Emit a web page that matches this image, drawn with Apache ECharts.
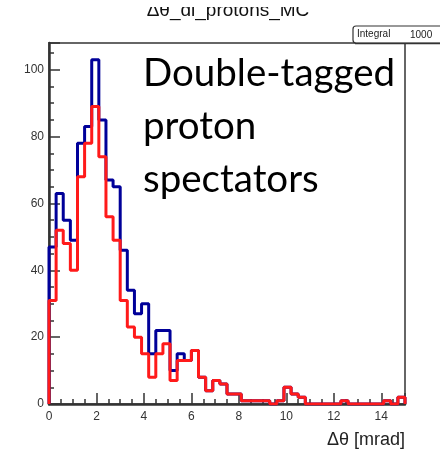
<!DOCTYPE html>
<html><head><meta charset="utf-8">
<script src="https://cdn.jsdelivr.net/npm/echarts@6/dist/echarts.min.js"></script>
<style>html,body{margin:0;padding:0;background:#fff}#c{width:440px;height:450px}</style>
</head><body><div id="c"></div>
<script>
// ---- data ----
const binStart = 0;
const binWidth = 0.3;
const blueCounts = [47,63,55,49,78,83,103,85,67,65, 46,34,27,30,15,22,22,10,15,13,
                    16,8,4,7,6,3,3,1,1,1, 1,0,1,5,3,2,0,0,0,0, 0,1,0,0,0,0,0,1,0,2];
const redCounts  = [31,52,48,40,68,78,89,74,56,49, 31,23,20,15,8,15,18,7,13,13,
                    16,8,4,7,6,3,3,1,1,1, 1,0,1,5,3,2,0,0,0,0, 0,1,0,0,0,0,0,1,0,2];
const xTickLabels = ['0','2','4','6','8','10','12','14'];
const yTickLabels = ['0','20','40','60','80','100'];
const titleText = 'Δθ_dl_protons_MC';
const xAxisTitle = 'Δθ [mrad]';
const statLabel = 'Integral';
const statValue = '1000';
const annotationLines = ['Double-tagged','proton','spectators'];

function stepData(counts){
  const pts = [[binStart, 0]];
  counts.forEach((v,i)=>pts.push([binStart + i*binWidth, v]));
  const end = binStart + counts.length*binWidth;
  pts.push([end, counts[counts.length-1]]);
  pts.push([end, 0]);
  return pts;
}
const chart = echarts.init(document.getElementById('c'), null, {renderer:'canvas'});
const axisCol = '#333';
const lab = {fontFamily:'"Liberation Sans", Arial, sans-serif', fontSize:12, color:'#333'};
chart.setOption({
  animation:false,
  backgroundColor:'#fff',
  grid:{left:49, right:35, top:43, bottom:46, show:true, borderColor:'#666', borderWidth:2},
  xAxis:[
    {type:'value', min:0, max:15, interval:2, position:'bottom',
     axisLine:{show:true, lineStyle:{color:axisCol, width:2.5}},
     axisTick:{show:true, inside:true, length:11, lineStyle:{color:axisCol, width:1.5}},
     axisLabel:Object.assign({margin:7, formatter:v=>xTickLabels.includes(String(v))?String(v):''}, lab),
     splitLine:{show:false}},
    {type:'value', min:0, max:15, interval:0.5, position:'bottom',
     axisLine:{show:false},
     axisTick:{show:true, inside:true, length:5, lineStyle:{color:axisCol, width:1.5}},
     axisLabel:{show:false}, splitLine:{show:false}}
  ],
  yAxis:[
    {type:'value', min:0, max:108, interval:20, position:'left',
     axisLine:{show:true, lineStyle:{color:axisCol, width:2.5}},
     axisTick:{show:true, inside:true, length:11, lineStyle:{color:axisCol, width:1.5}},
     axisLabel:Object.assign({margin:5, formatter:v=>yTickLabels.includes(String(v))?String(v):''}, lab),
     splitLine:{show:false}},
    {type:'value', min:0, max:108, interval:5, position:'left',
     axisLine:{show:false},
     axisTick:{show:true, inside:true, length:5, lineStyle:{color:axisCol, width:1.5}},
     axisLabel:{show:false}, splitLine:{show:false}}
  ],
  series:[
    {type:'line', step:'end', data:stepData(blueCounts), symbol:'none', xAxisIndex:0, yAxisIndex:0,
     lineStyle:{color:'#000099', width:3}, z:2},
    {type:'line', step:'end', data:stepData(redCounts), symbol:'none', xAxisIndex:0, yAxisIndex:0,
     lineStyle:{color:'#ff1a1a', width:3}, z:3}
  ],
  graphic:[
    {type:'text', x:228, y:20, z:10,
     style:{text:titleText, font:'19px "Liberation Sans", Arial, sans-serif', fill:'#111',
            align:'center', textAlign:'center', verticalAlign:'bottom', textVerticalAlign:'bottom'}},
    {type:'rect', shape:{x:0, y:0, width:440, height:7}, z:11, style:{fill:'#fff'}},
    {type:'rect', shape:{x:353, y:26, width:100, height:17, r:3}, z:10,
     style:{fill:'#fff', stroke:'#333', lineWidth:1.2}},
    {type:'line', shape:{x1:355, y1:43.5, x2:440, y2:43.5}, z:10, style:{stroke:'#333', lineWidth:1.5}},
    {type:'text', x:357, y:34.5, z:11,
     style:{text:statLabel, font:'10px "Liberation Sans", Arial, sans-serif', fill:'#222',
            verticalAlign:'middle', textVerticalAlign:'middle'}},
    {type:'text', x:410, y:35, z:11,
     style:{text:statValue, font:'10px "Liberation Sans", Arial, sans-serif', fill:'#222',
            verticalAlign:'middle', textVerticalAlign:'middle'}},
    {type:'text', x:143, y:47, z:12,
     style:{text:annotationLines.join('\n'), font:'38.5px Lato, "Open Sans", sans-serif', fill:'#000',
            lineHeight:53, verticalAlign:'top', textVerticalAlign:'top'}},
    {type:'text', x:405, y:449, z:10,
     style:{text:xAxisTitle, font:'18px "Liberation Sans", Arial, sans-serif', fill:'#222',
            align:'right', textAlign:'right', verticalAlign:'bottom', textVerticalAlign:'bottom'}}
  ]
});
</script></body></html>
